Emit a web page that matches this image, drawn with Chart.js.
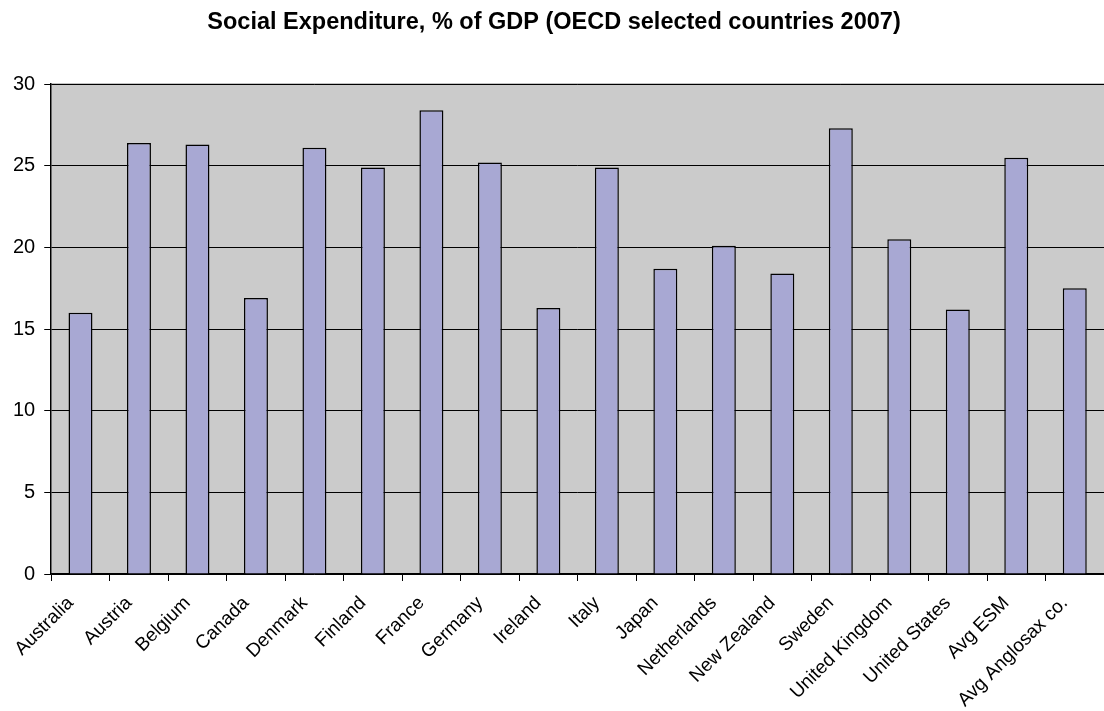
<!DOCTYPE html>
<html>
<head>
<meta charset="utf-8">
<script src="https://cdn.jsdelivr.net/npm/chart.js@4/dist/chart.umd.min.js"></script>
<style>
  html, body { margin: 0; padding: 0; background: #fff; }
  #wrap { width: 1104px; height: 711px; }
</style>
</head>
<body>
<div id="wrap"><canvas id="chart-social"></canvas></div>
<script>
var countries = ['Australia', 'Austria', 'Belgium', 'Canada', 'Denmark', 'Finland',
  'France', 'Germany', 'Ireland', 'Italy', 'Japan', 'Netherlands', 'New Zealand',
  'Sweden', 'United Kingdom', 'United States', 'Avg ESM', 'Avg Anglosax co.'];
var socialExp = [16.0, 26.4, 26.3, 16.9, 26.1, 24.9, 28.4, 25.2, 16.3, 24.9,
  18.7, 20.1, 18.4, 27.3, 20.5, 16.2, 25.5, 17.5];
var yTicks = [0, 5, 10, 15, 20, 25, 30];

var fontName = '"Liberation Sans", Arial, sans-serif';

// gray plot area + top border line
var plotBg = {
  id: 'plotBg',
  beforeDraw: function(chart) {
    var a = chart.chartArea, c = chart.ctx;
    c.save();
    c.fillStyle = '#cbcbcb';
    c.fillRect(a.left, a.top, a.right - a.left, a.bottom - a.top);
    c.strokeStyle = '#888888';
    c.lineWidth = 1.5;
    c.beginPath();
    c.moveTo(a.left, a.top);
    c.lineTo(a.right, a.top);
    c.stroke();
    c.restore();
  }
};

var config_social = {
  type: 'bar',
  data: {
    labels: countries,
    datasets: [{
      data: socialExp,
      backgroundColor: '#a8a8d3',
      borderColor: '#000000',
      borderWidth: 1.5,
      barPercentage: 0.41,
      categoryPercentage: 1.0
    }]
  },
  options: {
    responsive: true,
    maintainAspectRatio: false,
    animation: false,
    layout: { padding: { left: 4, right: 0, top: 8, bottom: 0 } },
    plugins: {
      legend: { display: false },
      tooltip: { enabled: false },
      title: {
        display: true,
        text: 'Social Expenditure, % of GDP (OECD selected countries 2007)',
        color: '#000',
        font: { family: fontName, size: 23.5, weight: 'bold' },
        padding: { top: 0, bottom: 48 }
      }
    },
    scales: {
      x: {
        offset: true,
        afterFit: function(scale) {
          scale.height = 137;
        },
        grid: {
          offset: true,
          drawOnChartArea: false,
          drawTicks: true,
          tickLength: 7,
          color: '#000'
        },
        border: { color: '#000', width: 1.5 },
        ticks: {
          color: '#000',
          font: { family: fontName, size: 19 },
          minRotation: 45,
          maxRotation: 45,
          autoSkip: false,
          padding: 11,
          labelOffset: -10
        }
      },
      y: {
        min: 0,
        max: 30,
        afterBuildTicks: function(axis) {
          axis.ticks = yTicks.map(function(v) { return { value: v }; });
        },
        grid: {
          color: '#000',
          lineWidth: 1,
          tickLength: 7,
          drawTicks: true
        },
        border: { color: '#000', width: 1.5 },
        ticks: {
          color: '#000',
          font: { family: fontName, size: 20 },
          padding: 9
        }
      }
    }
  },
  plugins: [plotBg]
};

window.onload = function() {
  var ctx = document.getElementById('chart-social').getContext('2d');
  window.socialChart = new Chart(ctx, config_social);
};
</script>
</body>
</html>
